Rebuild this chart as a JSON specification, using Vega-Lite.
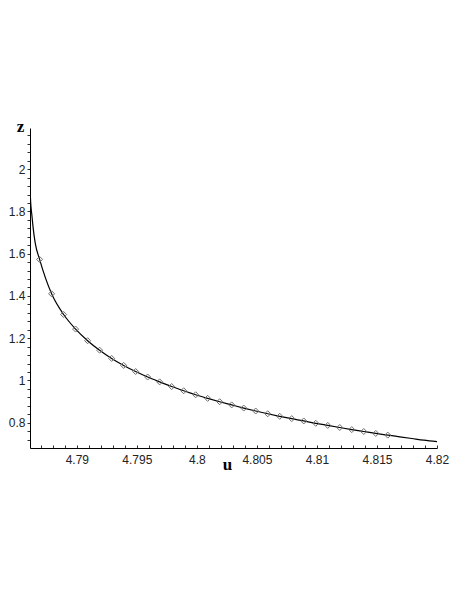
{
  "$schema": "https://vega.github.io/schema/vega-lite/v6.json",
  "width": 407,
  "height": 320,
  "autosize": {"type": "none"},
  "padding": {"left": 30, "top": 128, "right": 20, "bottom": 143},
  "background": "white",
  "config": {
    "view": {"stroke": null},
    "axis": {
      "grid": false,
      "domainColor": "black",
      "domainWidth": 1,
      "tickColor": "#333333",
      "tickWidth": 1,
      "labelColor": "#222222",
      "labelFont": "Liberation Sans",
      "labelFontSize": 12,
      "titleFont": "Liberation Serif",
      "titleFontSize": 17,
      "titleFontWeight": "bold",
      "titleColor": "black"
    }
  },
  "datasets": {
    "curve": [
      {"u": 4.7861, "z": 1.905},
      {"u": 4.78616, "z": 1.839},
      {"u": 4.78627, "z": 1.775},
      {"u": 4.78635, "z": 1.728},
      {"u": 4.78654, "z": 1.649},
      {"u": 4.7869, "z": 1.573},
      {"u": 4.7879, "z": 1.41},
      {"u": 4.7889, "z": 1.312},
      {"u": 4.7899, "z": 1.243},
      {"u": 4.7909, "z": 1.188},
      {"u": 4.7919, "z": 1.143},
      {"u": 4.7929, "z": 1.104},
      {"u": 4.7939, "z": 1.071},
      {"u": 4.7949, "z": 1.042},
      {"u": 4.7959, "z": 1.016},
      {"u": 4.7969, "z": 0.993},
      {"u": 4.7979, "z": 0.971},
      {"u": 4.7989, "z": 0.951},
      {"u": 4.7999, "z": 0.932},
      {"u": 4.8009, "z": 0.915},
      {"u": 4.8019, "z": 0.899},
      {"u": 4.8029, "z": 0.884},
      {"u": 4.8039, "z": 0.869},
      {"u": 4.8049, "z": 0.855},
      {"u": 4.8059, "z": 0.842},
      {"u": 4.8069, "z": 0.83},
      {"u": 4.8079, "z": 0.819},
      {"u": 4.8089, "z": 0.808},
      {"u": 4.8099, "z": 0.797},
      {"u": 4.8109, "z": 0.787},
      {"u": 4.8119, "z": 0.777},
      {"u": 4.8129, "z": 0.767},
      {"u": 4.8139, "z": 0.758},
      {"u": 4.8149, "z": 0.749},
      {"u": 4.8159, "z": 0.741},
      {"u": 4.8169, "z": 0.733},
      {"u": 4.8179, "z": 0.725},
      {"u": 4.8189, "z": 0.717},
      {"u": 4.82, "z": 0.71}
    ],
    "points": [
      {"u": 4.7869, "z": 1.573},
      {"u": 4.7879, "z": 1.41},
      {"u": 4.7889, "z": 1.312},
      {"u": 4.7899, "z": 1.243},
      {"u": 4.7909, "z": 1.188},
      {"u": 4.7919, "z": 1.143},
      {"u": 4.7929, "z": 1.104},
      {"u": 4.7939, "z": 1.071},
      {"u": 4.7949, "z": 1.042},
      {"u": 4.7959, "z": 1.016},
      {"u": 4.7969, "z": 0.993},
      {"u": 4.7979, "z": 0.971},
      {"u": 4.7989, "z": 0.951},
      {"u": 4.7999, "z": 0.932},
      {"u": 4.8009, "z": 0.915},
      {"u": 4.8019, "z": 0.899},
      {"u": 4.8029, "z": 0.884},
      {"u": 4.8039, "z": 0.869},
      {"u": 4.8049, "z": 0.855},
      {"u": 4.8059, "z": 0.842},
      {"u": 4.8069, "z": 0.83},
      {"u": 4.8079, "z": 0.819},
      {"u": 4.8089, "z": 0.808},
      {"u": 4.8099, "z": 0.797},
      {"u": 4.8109, "z": 0.787},
      {"u": 4.8119, "z": 0.777},
      {"u": 4.8129, "z": 0.767},
      {"u": 4.8139, "z": 0.758},
      {"u": 4.8149, "z": 0.749},
      {"u": 4.8159, "z": 0.741}
    ]
  },
  "layer": [
    {
      "data": {"name": "curve"},
      "mark": {"type": "line", "color": "black", "strokeWidth": 1.2, "interpolate": "monotone", "clip": true},
      "encoding": {
        "x": {
          "field": "u",
          "type": "quantitative",
          "scale": {"domain": [4.7861, 4.82], "nice": false, "zero": false},
          "axis": {
            "title": "u",
            "values": [4.787, 4.788, 4.789, 4.79, 4.791, 4.792, 4.793, 4.794, 4.795, 4.796, 4.797, 4.798, 4.799, 4.8, 4.801, 4.802, 4.803, 4.804, 4.805, 4.806, 4.807, 4.808, 4.809, 4.81, 4.811, 4.812, 4.813, 4.814, 4.815, 4.816, 4.817, 4.818, 4.819, 4.82],
            "tickCount": 200,
            "labelExpr": "round(datum.value*1000)%5==0 ? format(datum.value,'.4~f') : ''",
            "tickSize": -3,
            "labelPadding": 9,
            "labelOverlap": false,
            "labelFlush": false,
            "labelBound": false,
            "titleX": 197,
            "titleY": 21,
            "titleBaseline": "alphabetic",
            "titleAlign": "center"
          }
        },
        "y": {
          "field": "z",
          "type": "quantitative",
          "scale": {"domain": [0.68, 2.195], "nice": false, "zero": false},
          "axis": {
            "title": "z",
            "values": [0.72, 0.76, 0.8, 0.84, 0.88, 0.92, 0.96, 1.0, 1.04, 1.08, 1.12, 1.16, 1.2, 1.24, 1.28, 1.32, 1.36, 1.4, 1.44, 1.48, 1.52, 1.56, 1.6, 1.64, 1.68, 1.72, 1.76, 1.8, 1.84, 1.88, 1.92, 1.96, 2.0, 2.04, 2.08, 2.12, 2.16],
            "tickCount": 200,
            "labelExpr": "round(datum.value*100)%20==0 ? format(datum.value,'~g') : ''",
            "tickSize": 3,
            "labelPadding": 2,
            "labelOverlap": false,
            "labelFlush": false,
            "labelBound": false,
            "titleAngle": 0,
            "titleX": -10,
            "titleY": 3,
            "titleAlign": "center",
            "titleBaseline": "alphabetic"
          }
        }
      }
    },
    {
      "data": {"name": "points"},
      "mark": {"type": "point", "shape": "diamond", "filled": false, "stroke": "#6e6e6e", "strokeWidth": 1, "size": 36, "opacity": 1},
      "encoding": {
        "x": {"field": "u", "type": "quantitative"},
        "y": {"field": "z", "type": "quantitative"}
      }
    }
  ]
}
